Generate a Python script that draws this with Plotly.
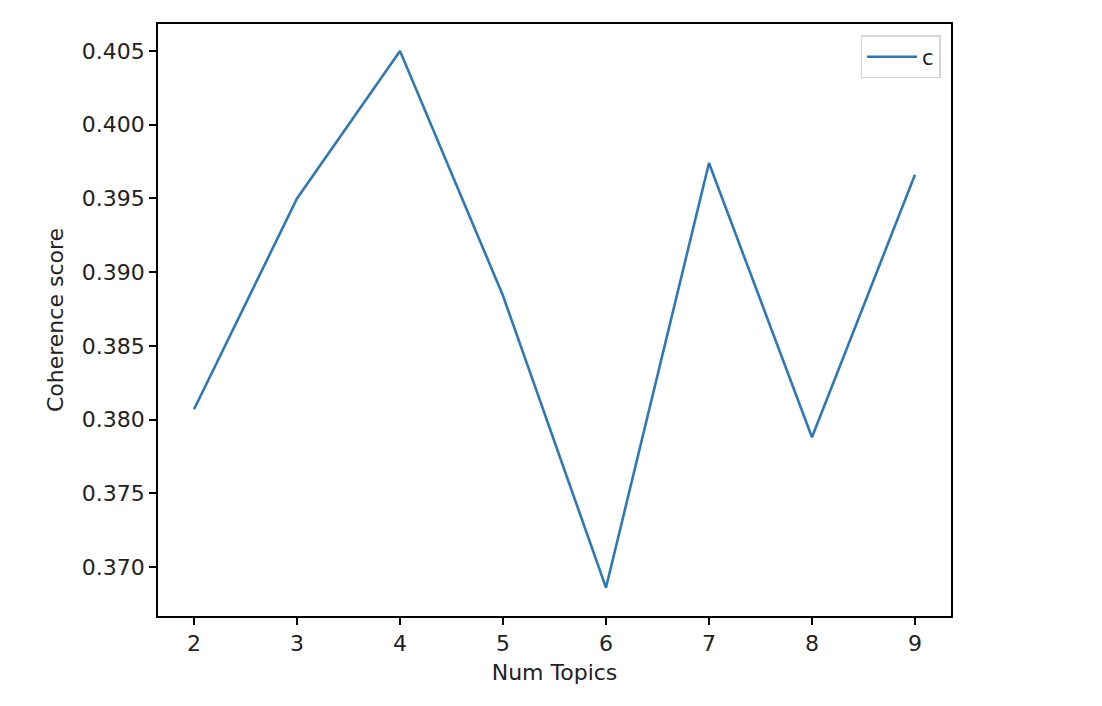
import plotly.graph_objects as go

num_topics = [2, 3, 4, 5, 6, 7, 8, 9]
coherence = [0.3807, 0.3950, 0.4050, 0.3884, 0.3686, 0.3974, 0.3788, 0.3966]
series_name = "c"
y_ticks = [0.370, 0.375, 0.380, 0.385, 0.390, 0.395, 0.400, 0.405]

fig = go.Figure()
fig.add_trace(go.Scatter(x=num_topics, y=coherence, mode="lines", name=series_name,
                         line=dict(color="#2f78b6", width=2.6)))

font = dict(family="DejaVu Sans", size=22, color="#222222")
fig.update_layout(
    width=1102, height=706,
    margin=dict(l=150, r=159, t=16, b=98),
    paper_bgcolor="white", plot_bgcolor="white",
    font=font,
    showlegend=True,
    legend=dict(x=0.987, y=0.981, xanchor="right", yanchor="top",
                bgcolor="white", bordercolor="#d6d6d6", borderwidth=1.3,
                itemwidth=50, tracegroupgap=0,
                font=dict(family="DejaVu Sans", size=21, color="#222222")),
)
fig.update_xaxes(range=[1.65, 9.35], tickmode="array", tickvals=num_topics,
                 ticks="outside", ticklen=7, tickwidth=1.5, tickcolor="black",
                 showline=True, linecolor="black", linewidth=1.5, mirror=True,
                 showgrid=False, zeroline=False,
                 tickfont=dict(size=22),
                 title=dict(text="Num Topics", standoff=9, font=dict(size=22)))
fig.update_yaxes(range=[0.36668, 0.40683], tickmode="array", tickvals=y_ticks,
                 tickformat=".3f",
                 ticks="outside", ticklen=7, tickwidth=1.5, tickcolor="black",
                 showline=True, linecolor="black", linewidth=1.5, mirror=True,
                 showgrid=False, zeroline=False,
                 tickfont=dict(size=22),
                 title=dict(text="Coherence score", standoff=12, font=dict(size=22)))

fig.write_html("out.html")
